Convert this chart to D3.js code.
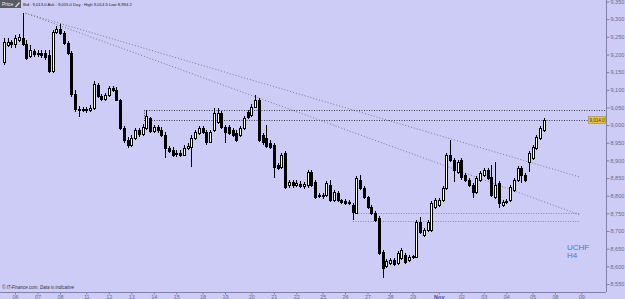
<!DOCTYPE html>
<html>
<head>
<meta charset="utf-8">
<script src="https://cdn.jsdelivr.net/npm/d3@7"></script>
<style>
  html, body { margin: 0; padding: 0; background: #ccccf7; overflow: hidden; }
  svg { display: block; font-family: "Liberation Sans", Arial, sans-serif; }
</style>
</head>
<body>
<svg id="chart" width="625" height="299"></svg>
<script>
// H4 candles, one entry per bar (prices shown x10000)
var opens = [9179,9227,9235,9229,9241,9246,9229,9196,9210,9201,
  9204,9204,9198,9153,9263,9272,9261,9232,9204,9088,
  9046,9043,9046,9043,9048,9113,9082,9074,9085,9105,
  9099,9071,8992,8958,8944,8963,8986,8975,8992,9020,
  8983,8995,8986,8972,8935,8929,8918,8921,8915,8935,
  8938,8963,8978,8992,8980,8952,8986,9009,9034,8995,
  8995,8986,8978,8972,8992,9037,9029,9051,9071,8972,
  8963,8949,8944,8887,8881,8921,8830,8839,8830,8833,
  8828,8830,8867,8839,8799,8802,8802,8830,8788,8808,
  8788,8785,8782,8774,8751,8845,8822,8797,8768,8751,
  8737,8641,8601,8610,8618,8610,8624,8632,8618,8627,
  8627,8726,8689,8703,8703,8768,8774,8788,8822,8915,
  8901,8867,8901,8859,8845,8830,8811,8845,8859,8873,
  8853,8797,8836,8774,8782,8788,8816,8845,8879,8859,
  8896,8907,8935,8963,8986];
var highs = [9246,9246,9241,9255,9258,9317,9241,9227,9215,9212,
  9212,9212,9212,9269,9280,9286,9266,9238,9210,9099,
  9054,9051,9051,9057,9125,9119,9088,9091,9111,9111,
  9108,9074,8997,8966,8972,8992,8992,9003,9043,9023,
  9000,9000,8995,8980,8941,8938,8929,8929,8944,8949,
  8972,8986,8997,8997,8986,8986,9048,9048,9040,9000,
  9000,8992,8986,8997,9026,9043,9060,9085,9077,8978,
  9000,8958,8949,8893,8921,8927,8845,8845,8845,8842,
  8839,8873,8873,8845,8808,8808,8842,8845,8816,8813,
  8791,8791,8788,8779,8856,8859,8828,8800,8774,8757,
  8743,8646,8621,8624,8624,8644,8652,8638,8632,8632,
  8731,8740,8709,8731,8785,8794,8794,8828,8921,8958,
  8907,8901,8907,8864,8850,8836,8856,8870,8879,8879,
  8887,8896,8842,8788,8791,8830,8850,8884,8884,8864,
  8927,8944,8972,8997,9020];
var lows = [9170,9221,9218,9218,9235,9224,9184,9190,9193,9193,
  9190,9184,9147,9147,9258,9255,9227,9198,9080,9037,
  9023,9037,9034,9037,9043,9077,9068,9068,9080,9094,
  9068,8986,8949,8935,8938,8958,8966,8969,8986,8978,
  8978,8978,8966,8907,8921,8910,8910,8910,8913,8929,
  8881,8958,8972,8975,8944,8949,8980,9003,8989,8949,
  8972,8966,8952,8966,8986,9017,9023,9048,8952,8944,
  8935,8932,8850,8873,8876,8819,8822,8822,8825,8822,
  8819,8822,8825,8791,8794,8791,8797,8782,8782,8782,
  8777,8774,8774,8731,8748,8816,8791,8763,8746,8726,
  8632,8567,8596,8604,8601,8604,8618,8607,8613,8621,
  8624,8692,8683,8698,8698,8763,8768,8782,8816,8896,
  8839,8862,8845,8839,8825,8794,8805,8839,8853,8845,
  8797,8791,8765,8768,8777,8782,8811,8839,8836,8839,
  8867,8901,8929,8958,8980];
var closes = [9235,9235,9229,9246,9249,9229,9190,9212,9201,9204,
  9198,9193,9153,9263,9272,9261,9232,9204,9088,9046,
  9043,9046,9043,9048,9116,9082,9074,9085,9105,9099,
  9071,8992,8958,8944,8963,8986,8975,8995,9026,8983,
  8995,8986,8972,8935,8927,8915,8921,8915,8935,8941,
  8963,8980,8992,8980,8952,8980,9034,9034,8995,8980,
  8978,8972,8958,8992,9020,9023,9051,9071,8958,8952,
  8941,8938,8881,8879,8915,8825,8839,8830,8836,8828,
  8833,8867,8830,8797,8802,8799,8836,8788,8811,8788,
  8782,8779,8779,8754,8850,8822,8797,8768,8751,8731,
  8638,8596,8615,8618,8607,8638,8646,8613,8627,8628,
  8726,8698,8703,8726,8779,8788,8788,8822,8915,8901,
  8873,8896,8853,8845,8830,8811,8850,8864,8873,8850,
  8802,8830,8779,8782,8785,8825,8845,8879,8859,8845,
  8921,8938,8966,8992,9014];

// day labels and the bar each day starts on
var dayLabels = ["06","07","08","11","12","13","14","15","18","19","20","21","22",
  "25","26","27","28","29","Nov","02","03","04","05","08","09"];
var dayBars = [3,9,15,22,28,34,40,46,53,59,66,72,78,85,91,97,103,109,116,122,128,134,141,147,154];

var priceTicks = [8550,8600,8650,8700,8750,8800,8850,8900,8950,9000,9050,9100,9150,9200,9250,9300,9350];

// drawn objects: horizontal levels and the two falling trendlines
var levelValues = [9042, 9014, 8751, 8729];
var levelFrom = [37.4, 37.4, 93.9, 93.1];
var levelTo = [160.6, 160.6, 153.6, 153.6];
var levelColors = ["#3c3c4c", "#3c3c4c", "#8c8c9c", "#8c8c9c"];
var trendFrom = [[5.8, 9317], [5.8, 9317]];
var trendTo = [[153.6, 8853], [153.6, 8746]];

var lastPrice = "9,014.0";
var quote = "Bid : 9,013.0  Ask : 9,015.0  Day : High 9,014.5  Low 8,994.2";

var svg = d3.select("#chart");
var plotRight = 606, plotBottom = 292;

var x = d3.scaleLinear().domain([-1, 160.6]).range([0, plotRight]);
var y = d3.scaleLinear().domain([8550, 9350]).range([284, 1.5]);

svg.append("rect")
    .attr("width", 625)
    .attr("height", 299)
    .attr("fill", "#ccccf7");

// levels
svg.append("g")
    .selectAll("line")
    .data(levelValues)
  .enter().append("line")
    .attr("x1", function(d, i) { return x(levelFrom[i]); })
    .attr("x2", function(d, i) { return x(levelTo[i]); })
    .attr("y1", function(d) { return Math.round(y(d)) + 0.5; })
    .attr("y2", function(d) { return Math.round(y(d)) + 0.5; })
    .attr("stroke", function(d, i) { return levelColors[i]; })
    .attr("stroke-width", 1)
    .attr("stroke-dasharray", "1,1.5");

svg.append("line")
    .attr("x1", Math.round(x(levelFrom[0])) + 0.5)
    .attr("x2", Math.round(x(levelFrom[0])) + 0.5)
    .attr("y1", y(levelValues[0]))
    .attr("y2", y(levelValues[1]))
    .attr("stroke", levelColors[0])
    .attr("stroke-dasharray", "1,1.5");

// trendlines
svg.append("g")
    .selectAll("line")
    .data(trendFrom)
  .enter().append("line")
    .attr("x1", function(d) { return x(d[0]); })
    .attr("y1", function(d) { return y(d[1]); })
    .attr("x2", function(d, i) { return x(trendTo[i][0]); })
    .attr("y2", function(d, i) { return y(trendTo[i][1]); })
    .attr("stroke", "#7c7c8c")
    .attr("stroke-width", 1)
    .attr("stroke-dasharray", "1,2");

// candles
var candle = svg.append("g")
    .attr("shape-rendering", "crispEdges")
    .selectAll("g")
    .data(closes)
  .enter().append("g");

candle.append("line")
    .attr("x1", function(d, i) { return Math.round(x(i)) + 0.5; })
    .attr("x2", function(d, i) { return Math.round(x(i)) + 0.5; })
    .attr("y1", function(d, i) { return y(highs[i]); })
    .attr("y2", function(d, i) { return y(lows[i]); })
    .attr("stroke", "#000");

candle.append("rect")
    .attr("x", function(d, i) { return Math.round(x(i)) - 0.5; })
    .attr("y", function(d, i) { return Math.round(y(Math.max(opens[i], d))) + 0.5; })
    .attr("width", 2)
    .attr("height", function(d, i) { return Math.max(1, Math.round(Math.abs(y(opens[i]) - y(d)))); })
    .attr("fill", function(d, i) { return d >= opens[i] ? "#fff" : "#000"; })
    .attr("stroke", "#000");

// frame
svg.append("line")
    .attr("x1", plotRight + 0.5).attr("x2", plotRight + 0.5)
    .attr("y1", 0).attr("y2", plotBottom)
    .attr("stroke", "#8080a8");
svg.append("line")
    .attr("x1", 0).attr("x2", plotRight)
    .attr("y1", plotBottom + 0.5).attr("y2", plotBottom + 0.5)
    .attr("stroke", "#8080a8");

// axes
var yAxis = svg.append("g")
    .attr("transform", "translate(" + (plotRight + 0.5) + ",0)")
    .call(d3.axisRight(y).tickValues(priceTicks).tickFormat(d3.format(",")).tickSize(3).tickPadding(1));
yAxis.select(".domain").remove();
yAxis.selectAll("line").attr("stroke", "#8080a8");
yAxis.selectAll("text").attr("font-size", 5.5).attr("fill", "#6a6a88");

var xAxis = svg.append("g")
    .attr("transform", "translate(0," + (plotBottom + 0.5) + ")")
    .call(d3.axisBottom(x).tickValues(dayBars).tickFormat(function(d, i) { return dayLabels[i]; }).tickSize(2).tickPadding(1));
xAxis.select(".domain").remove();
xAxis.selectAll("line").attr("stroke", "#8080a8");
xAxis.selectAll("text")
    .attr("font-size", 5.5)
    .attr("fill", function(d, i) { return dayLabels[i] == "Nov" ? "#3a4fb0" : "#6a6a88"; })
    .attr("font-weight", function(d, i) { return dayLabels[i] == "Nov" ? "bold" : null; });

// last price tag
svg.append("rect")
    .attr("x", 588.5).attr("y", Math.round(y(closes[closes.length - 1])) - 3.5)
    .attr("width", 17).attr("height", 7)
    .attr("fill", "#e9c43c").attr("stroke", "#9a7a20").attr("stroke-width", 0.5);
svg.append("text")
    .attr("x", 597).attr("y", Math.round(y(closes[closes.length - 1])) + 2)
    .attr("text-anchor", "middle")
    .attr("font-size", 4.5)
    .attr("fill", "#333")
    .text(lastPrice);

// header
svg.append("rect")
    .attr("x", 0).attr("y", 0).attr("width", 21).attr("height", 8)
    .attr("fill", "#5a5a62");
svg.append("text")
    .attr("x", 2).attr("y", 6)
    .attr("font-size", 5)
    .attr("fill", "#eee")
    .text("Price");
svg.append("path")
    .attr("d", "M15,6.5 L19,2 L20,3 L16,7.5 Z")
    .attr("fill", "#d8d8d8");
svg.append("text")
    .attr("x", 23).attr("y", 6)
    .attr("font-size", 4.2)
    .attr("fill", "#222")
    .text(quote);

// symbol watermark
svg.append("text")
    .attr("x", 567).attr("y", 250)
    .attr("font-size", 8)
    .attr("fill", "#4a78d0")
    .text("UCHF");
svg.append("text")
    .attr("x", 567).attr("y", 258)
    .attr("font-size", 8)
    .attr("fill", "#4a78d0")
    .text("H4");

svg.append("text")
    .attr("x", 2).attr("y", 289)
    .attr("font-size", 4.5)
    .attr("font-style", "italic")
    .attr("fill", "#333")
    .text("\u00a9 IT-Finance.com. Data is indicative");
</script>
</body>
</html>
